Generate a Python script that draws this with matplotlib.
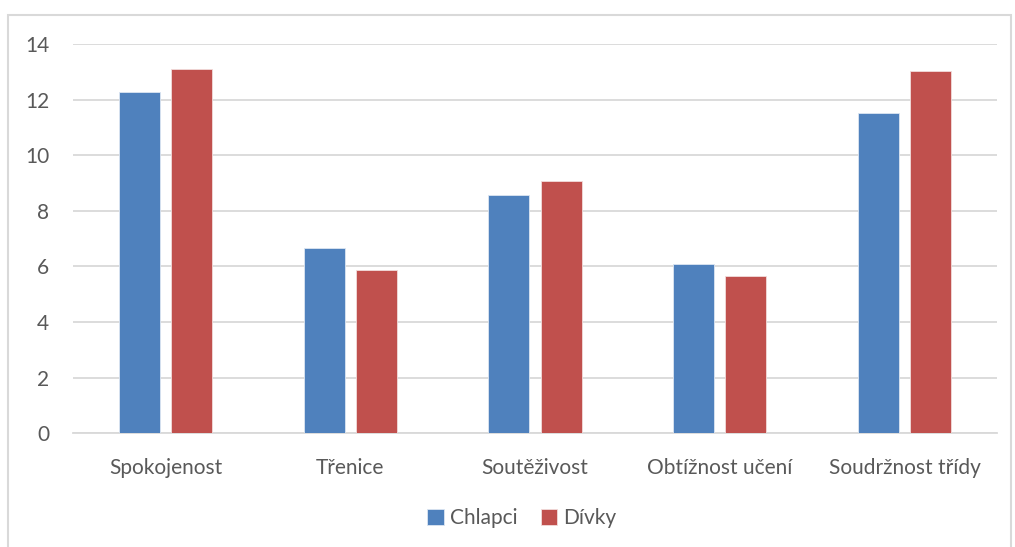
import numpy as np
import matplotlib
matplotlib.use("Agg")
import matplotlib.pyplot as plt
from matplotlib.patches import Rectangle

categories = ["Spokojenost", "Třenice", "Soutěživost", "Obtížnost učení", "Soudržnost třídy"]
chlapci = [12.29, 6.68, 8.58, 6.10, 11.53]
divky = [13.10, 5.89, 9.06, 5.64, 13.02]

plt.rcParams['font.family'] = ['Lato', 'DejaVu Sans']

fig = plt.figure(figsize=(10.15, 5.47), dpi=100)
ax = fig.add_axes([73 / 1015, 1 - 433.3 / 547, (997 - 73) / 1015, (433.3 - 44) / 547])

# outer chart border
fig.patches.append(Rectangle((8 / 1015, -0.01), (1011 - 8) / 1015, 1 - 15 / 547 + 0.01,
                             transform=fig.transFigure, fill=False,
                             edgecolor="#D9D9D9", linewidth=1.5))

x = np.arange(len(categories))
w = 0.222
off = 0.141
ax.bar(x - off, chlapci, w, color="#4F81BD", edgecolor="#DCE6F2", linewidth=0.6,
       label="Chlapci", zorder=3)
ax.bar(x + off, divky, w, color="#C0504D", edgecolor="#F2DCDB", linewidth=0.6,
       label="Dívky", zorder=3)

ax.set_xlim(-0.5, len(categories) - 0.5)
ax.set_ylim(0, 14)
ax.set_yticks(range(0, 15, 2))
ax.yaxis.grid(True, color="#D9D9D9", linewidth=1.3)
ax.set_axisbelow(True)
for s in ["top", "right", "left"]:
    ax.spines[s].set_visible(False)
ax.spines["bottom"].set_color("#D9D9D9")
ax.spines["bottom"].set_linewidth(1.3)

ax.set_xticks(x)
ax.set_xticklabels(categories)
ax.tick_params(axis="both", length=0, labelsize=15, labelcolor="#595959")
ax.tick_params(axis="x", pad=18)
ax.tick_params(axis="y", pad=17)

leg = fig.legend(loc="center", bbox_to_anchor=(522 / 1015, 1 - 518 / 547), ncol=2,
                 frameon=False, fontsize=15, handlelength=0.8, handleheight=0.8,
                 handletextpad=0.3, columnspacing=1.1)
for t in leg.get_texts():
    t.set_color("#595959")

fig.savefig("out.png", dpi=100)
